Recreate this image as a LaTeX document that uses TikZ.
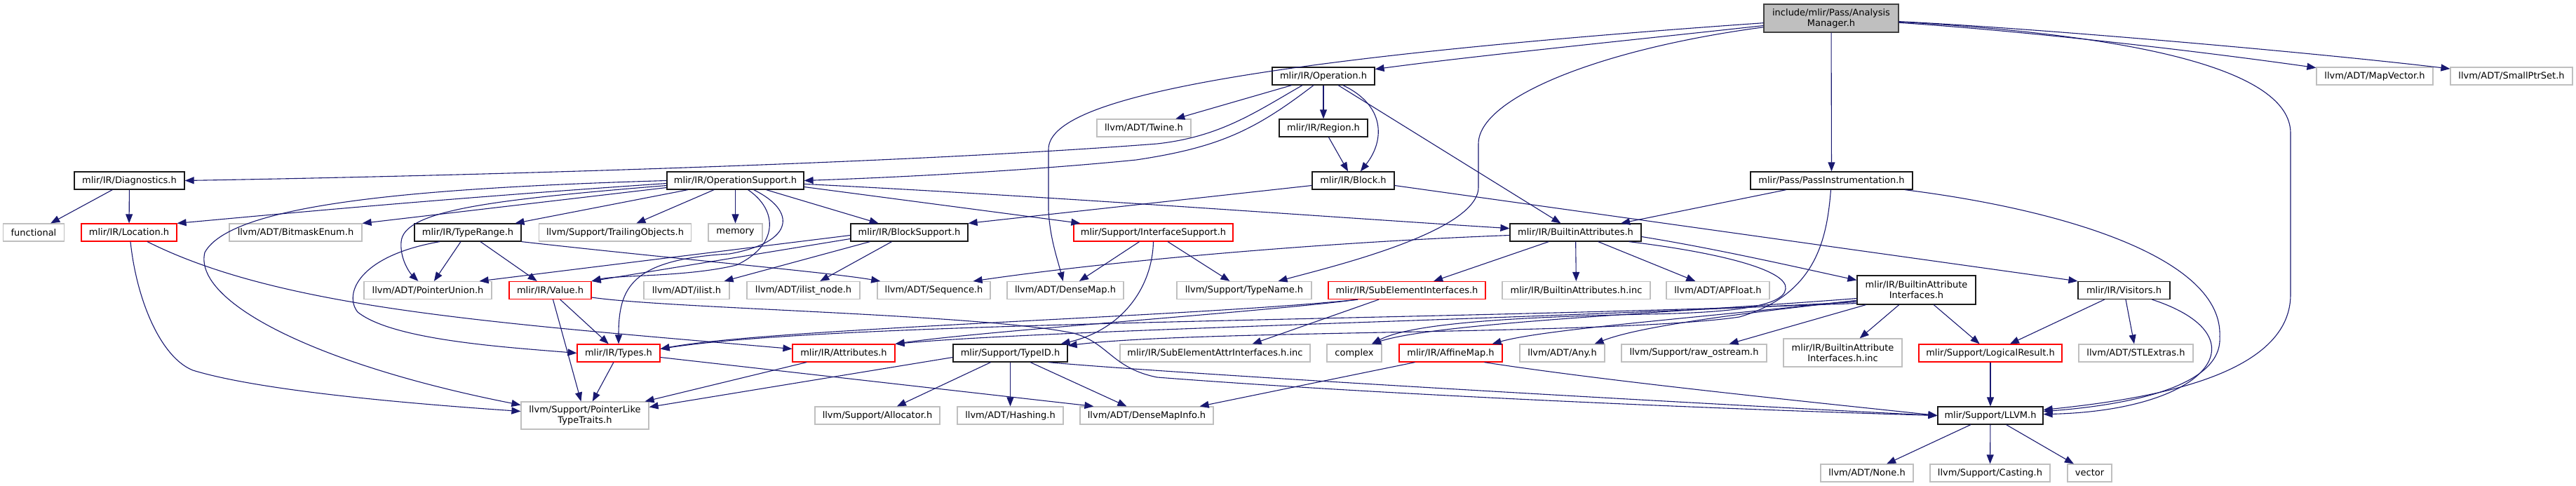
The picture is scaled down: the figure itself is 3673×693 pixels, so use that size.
\documentclass[tikz,border=0pt]{standalone}
\usepackage{fontspec}
\setmainfont{DejaVu Sans}
\usetikzlibrary{arrows.meta}
\definecolor{edgec}{HTML}{191970}
\definecolor{grayb}{HTML}{BFBFBF}
\definecolor{redb}{HTML}{FF0000}
\definecolor{darkb}{HTML}{404040}
\begin{document}
\begin{tikzpicture}[x=1pt,y=-1pt,
  base/.style={draw, inner sep=0pt, minimum height=25pt, font=\fontsize{13}{15}\selectfont, align=center, fill=white},
  dnode/.style={base, draw=black!90, line width=1.2pt},
  gnode/.style={base, draw=grayb, line width=1.2pt},
  rnode/.style={base, draw=redb, line width=1.2pt},
  tnode/.style={base, draw=darkb, fill=grayb, line width=1.2pt},
  edge/.style={draw=edgec, line width=1.1pt, -{Triangle[length=13pt,width=10pt]}}
]
\useasboundingbox (0,0) rectangle (3673,693);
% nodes
\node[tnode, minimum width=192pt, minimum height=40pt] (AM) at (2611,26) {include/mlir/Pass/Analysis\\Manager.h};
\node[dnode, minimum width=146pt] (Op) at (1887,108.5) {mlir/IR/Operation.h};
\node[gnode, minimum width=166pt] (MapV) at (3386,108.5) {llvm/ADT/MapVector.h};
\node[gnode, minimum width=174pt] (SPS) at (3581,108.5) {llvm/ADT/SmallPtrSet.h};
\node[gnode, minimum width=134pt] (Twine) at (1631,182.5) {llvm/ADT/Twine.h};
\node[dnode, minimum width=126pt] (Region) at (1887,182.5) {mlir/IR/Region.h};
\node[dnode, minimum width=157pt] (Diag) at (184.5,257.5) {mlir/IR/Diagnostics.h};
\node[dnode, minimum width=195pt] (OpS) at (1048.5,257.5) {mlir/IR/OperationSupport.h};
\node[dnode, minimum width=117pt] (Block) at (1929.5,257.5) {mlir/IR/Block.h};
\node[dnode, minimum width=231pt] (PI) at (2611.5,257.5) {mlir/Pass/PassInstrumentation.h};
\node[gnode, minimum width=87pt] (func) at (48,331.5) {functional};
\node[rnode, minimum width=136pt] (Loc) at (184,331.5) {mlir/IR/Location.h};
\node[gnode, minimum width=189pt] (BME) at (421.5,331.5) {llvm/ADT/BitmaskEnum.h};
\node[dnode, minimum width=152pt] (TR) at (667,331.5) {mlir/IR/TypeRange.h};
\node[gnode, minimum width=217pt] (TO) at (877,331.5) {llvm/Support/TrailingObjects.h};
\node[gnode, minimum width=77pt] (mem) at (1048.5,331.5) {memory};
\node[dnode, minimum width=167pt] (BS) at (1296.5,331.5) {mlir/IR/BlockSupport.h};
\node[rnode, minimum width=227pt] (IS) at (1644.5,331.5) {mlir/Support/InterfaceSupport.h};
\node[dnode, minimum width=187pt] (BA) at (2246.5,331.5) {mlir/IR/BuiltinAttributes.h};
\node[gnode, minimum width=182pt] (PU) at (610,414) {llvm/ADT/PointerUnion.h};
\node[rnode, minimum width=117pt] (Val) at (784.5,414) {mlir/IR/Value.h};
\node[gnode, minimum width=122pt] (ilist) at (979,414) {llvm/ADT/ilist.h};
\node[gnode, minimum width=161pt] (ilnode) at (1145.5,414) {llvm/ADT/ilist\_node.h};
\node[gnode, minimum width=161pt] (Seq) at (1331.5,414) {llvm/ADT/Sequence.h};
\node[gnode, minimum width=166pt] (DM) at (1519,414) {llvm/ADT/DenseMap.h};
\node[gnode, minimum width=192pt] (TN) at (1774,414) {llvm/Support/TypeName.h};
\node[rnode, minimum width=224pt] (SEI) at (2006,414) {mlir/IR/SubElementInterfaces.h};
\node[gnode, minimum width=211pt] (BAinc) at (2247.5,414) {mlir/IR/BuiltinAttributes.h.inc};
\node[gnode, minimum width=147pt] (APF) at (2449.5,414) {llvm/ADT/APFloat.h};
\node[dnode, minimum width=169pt, minimum height=41pt] (BAI) at (2732.5,413.5) {mlir/IR/BuiltinAttribute\\Interfaces.h};
\node[dnode, minimum width=131pt] (Vis) at (3028.5,414) {mlir/IR/Visitors.h};
\node[rnode, minimum width=118pt] (Types) at (882,503.5) {mlir/IR/Types.h};
\node[rnode, minimum width=146pt] (Attr) at (1203,503.5) {mlir/IR/Attributes.h};
\node[dnode, minimum width=163pt] (TID) at (1440.5,503.5) {mlir/Support/TypeID.h};
\node[gnode, minimum width=271pt] (SEAI) at (1732.5,503.5) {mlir/IR/SubElementAttrInterfaces.h.inc};
\node[gnode, minimum width=78pt] (cplx) at (1931,503.5) {complex};
\node[rnode, minimum width=147pt] (AffM) at (2068.5,503.5) {mlir/IR/AffineMap.h};
\node[gnode, minimum width=121pt] (Any) at (2227.5,503.5) {llvm/ADT/Any.h};
\node[gnode, minimum width=207pt] (raw) at (2415.5,503.5) {llvm/Support/raw\_ostream.h};
\node[gnode, minimum width=169pt, minimum height=40pt] (BAIinc) at (2627.5,503) {mlir/IR/BuiltinAttribute\\Interfaces.h.inc};
\node[rnode, minimum width=204pt] (LR) at (2838,503.5) {mlir/Support/LogicalResult.h};
\node[gnode, minimum width=163pt] (STL) at (3045.5,503.5) {llvm/ADT/STLExtras.h};
\node[gnode, minimum width=182pt, minimum height=39pt] (PLTT) at (834,592.5) {llvm/Support/PointerLike\\TypeTraits.h};
\node[gnode, minimum width=178pt] (Alloc) at (1251,592.5) {llvm/Support/Allocator.h};
\node[gnode, minimum width=151pt] (Hash) at (1440.5,592.5) {llvm/ADT/Hashing.h};
\node[gnode, minimum width=190pt] (DMI) at (1635,592.5) {llvm/ADT/DenseMapInfo.h};
\node[dnode, minimum width=150pt] (LLVM) at (2838,592.5) {mlir/Support/LLVM.h};
\node[gnode, minimum width=132pt] (None) at (2662,674.5) {llvm/ADT/None.h};
\node[gnode, minimum width=171pt] (Cast) at (2837.5,674.5) {llvm/Support/Casting.h};
\node[gnode, minimum width=63pt] (vec) at (2979.5,674.5) {vector};
% AnalysisManager.h
\draw[edge] (AM) .. controls (2300,60) and (2100,80) .. (Op);
\draw[edge] (AM) .. controls (1700,90) and (1495,150) .. (1495,213) -- (1495,300) .. controls (1497,340) and (1508,370) .. (DM);
\draw[edge] (AM) .. controls (2280,70) and (2108,140) .. (2108,205) -- (2108,267) .. controls (2108,330) and (1900,380) .. (TN);
\draw[edge] (AM) -- (PI);
\draw[edge] (AM) .. controls (2900,45) and (3150,75) .. (MapV);
\draw[edge] (AM) .. controls (2900,40) and (3300,75) .. (SPS);
\draw[edge] (AM) .. controls (3050,50) and (3266,100) .. (3266,190) -- (3266,420) .. controls (3266,540) and (3050,570) .. (LLVM);
% Operation.h
\draw[edge] (Op) -- (Region);
\draw[edge] (Op) .. controls (1975,150) and (1975,200) .. (Block);
\draw[edge] (Region) -- (Block);
\draw[edge] (Op) -- (BA);
\draw[edge] (Op) -- (Twine);
\draw[edge] ([xshift=-30pt]Op.south) .. controls (1790,160) and (1740,195) .. (1650,205) .. controls (1300,232) and (700,250) .. (Diag.east);
\draw[edge] ([xshift=-14pt]Op.south) .. controls (1790,185) and (1740,210) .. (1620,228) .. controls (1450,245) and (1250,254) .. (OpS.east);
% Block.h
\draw[edge] ([yshift=-7pt]Block.west) -- (BS.north east);
\draw[edge] ([yshift=-7pt]Block.east) -- (Vis.north west);
% Diagnostics.h
\draw[edge] (Diag) -- (func);
\draw[edge] (Diag) -- (Loc);
% OperationSupport.h
\draw[edge] (OpS) .. controls (1500,280) and (1900,310) .. (BA);
\draw[edge] ([yshift=-9pt]OpS.east) -- ([xshift=10pt]IS.north west);
\draw[edge] (OpS) -- (BS);
\draw[edge] (OpS) -- (mem);
\draw[edge] (OpS) -- (TO);
\draw[edge] (OpS) -- (TR);
\draw[edge] ([yshift=-10pt]OpS.west) -- (BME.north east);
\draw[edge] ([yshift=-4pt]OpS.west) .. controls (620,284) and (400,305) .. (Loc.north east);
\draw[edge] (OpS.west) .. controls (600,268) and (330,290) .. (292,360) .. controls (275,430) and (450,520) .. ([yshift=15pt]PLTT.west);
\draw[edge] ([yshift=-7pt]OpS.west) .. controls (700,285) and (575,300) .. (572,345) .. controls (570,370) and (585,390) .. (PU);
\draw[edge] ([xshift=18pt]OpS.south) .. controls (1110,300) and (1110,350) .. (1050,378) .. controls (980,395) and (880,392) .. (Val.north east);
\draw[edge] ([xshift=26pt]OpS.south) .. controls (1135,300) and (1135,345) .. (1040,362) .. controls (900,370) and (882,410) .. (Types);
% PassInstrumentation.h
\draw[edge] (PI) -- (BA);
\draw[edge] (PI) .. controls (2605,340) and (2590,420) .. (2480,452) .. controls (2300,478) and (1700,470) .. (TID);
\draw[edge] (PI) .. controls (2950,300) and (3170,370) .. (3165,480) .. controls (3170,560) and (3000,580) .. (LLVM);
% Visitors.h
\draw[edge] (Vis) .. controls (3230,480) and (3150,585) .. (LLVM);
\draw[edge] (Vis) -- (LR);
\draw[edge] (Vis) -- (STL);
% BlockSupport.h
\draw[edge] ([yshift=-4pt]BS.west) -- ([xshift=-18pt]PU.north east);
\draw[edge] ([yshift=-9pt]BS.west) -- (Val.north east);
\draw[edge] ([xshift=-56pt]BS.south) -- ([xshift=-8pt]ilist.north east);
\draw[edge] ([xshift=-25pt]BS.south) -- (ilnode);
% TypeRange.h
\draw[edge] ([xshift=-40pt]TR.south) .. controls (510,365) and (490,420) .. (510,445) .. controls (560,485) and (720,495) .. (Types.west);
\draw[edge] ([xshift=-10pt]TR.south) -- (PU);
\draw[edge] ([xshift=18pt]TR.south) -- (Val);
\draw[edge] (TR.south east) .. controls (950,368) and (1180,388) .. (Seq);
% Value.h
\draw[edge] (Val) -- (Types);
\draw[edge] ([xshift=4pt]Val.south) -- (PLTT);
\draw[edge] ([yshift=-10pt]Val.east) .. controls (950,440) and (1400,448) .. (1530,475) .. controls (1580,488) and (1585,525) .. (1650,538) .. controls (2000,565) and (2500,585) .. (LLVM.west);
% TypeID.h
\draw[edge] ([xshift=54pt]TID.south) .. controls (1700,535) and (2500,580) .. (LLVM.west);
\draw[edge] (TID) -- (DMI);
\draw[edge] (TID) -- (Hash);
\draw[edge] (TID) -- (Alloc);
\draw[edge] ([yshift=-6pt]TID.west) -- ([yshift=12pt]PLTT.east);
% Types.h, Attributes.h
\draw[edge] (Types) -- (PLTT);
\draw[edge] ([yshift=-6pt]Types.east) -- ([xshift=20pt]DMI.north west);
\draw[edge] ([xshift=-53pt]Attr.south) -- ([xshift=-6pt]PLTT.north east);
% Location.h
\draw[edge] (Loc) .. controls (400,440) and (700,460) .. ([yshift=6pt]Attr.west);
\draw[edge] ([xshift=2pt]Loc.south) .. controls (195,430) and (230,510) .. (275,528) .. controls (380,560) and (620,578) .. ([yshift=6pt]PLTT.west);
% InterfaceSupport.h
\draw[edge] (IS) -- (DM);
\draw[edge] (IS) -- (TN);
\draw[edge] (IS.south) .. controls (1643,410) and (1600,470) .. ([xshift=-10pt]TID.north east);
% BuiltinAttributes.h
\draw[edge] ([yshift=-4pt]BA.west) .. controls (1900,345) and (1600,370) .. ([xshift=-25pt]Seq.north east);
\draw[edge] (BA) -- (SEI);
\draw[edge] (BA) -- (BAinc);
\draw[edge] (BA) -- (APF);
\draw[edge] ([yshift=-6pt]BA.east) .. controls (2450,355) and (2580,385) .. ([yshift=14pt]BAI.west);
\draw[edge] ([xshift=76pt]BA.south) .. controls (2450,360) and (2550,385) .. (2546,412) .. controls (2543,440) and (2450,446) .. (2350,448) .. controls (2150,452) and (2010,462) .. ([xshift=25pt]cplx.north);
% SubElementInterfaces.h
\draw[edge] ([xshift=-70pt]SEI.south) .. controls (1800,445) and (1400,472) .. (Attr.north east);
\draw[edge] ([xshift=-70pt]SEI.south) .. controls (1700,452) and (1100,468) .. ([yshift=6pt]Types.east);
\draw[edge] ([xshift=-40pt]SEI.south) -- ([xshift=-83pt]SEAI.north east);
% BuiltinAttributeInterfaces.h
\draw[edge] ([yshift=-12pt]BAI.west) .. controls (2400,445) and (2050,460) .. ([xshift=25pt]cplx.north);
\draw[edge] ([yshift=-15pt]BAI.west) .. controls (2400,455) and (2200,470) .. ([xshift=-15pt]AffM.north east);
\draw[edge] ([yshift=-15pt]BAI.west) .. controls (2450,450) and (2330,468) .. ([xshift=-15pt]Any.north east);
\draw[edge] ([yshift=-17pt]BAI.west) .. controls (2200,455) and (1500,470) .. (Attr.north east);
\draw[edge] ([yshift=-19pt]BAI.west) .. controls (2000,458) and (1200,458) .. ([yshift=6pt]Types.east);
\draw[edge] ([xshift=-72pt]BAI.south) -- ([xshift=50pt]raw.north);
\draw[edge] (BAI) -- (BAIinc);
\draw[edge] (BAI) -- (LR);
% AffineMap.h
\draw[edge] ([xshift=48pt]AffM.south) .. controls (2300,545) and (2600,575) .. (LLVM.west);
\draw[edge] ([xshift=-51pt]AffM.south) -- ([xshift=-20pt]DMI.north east);
% LogicalResult.h, LLVM.h
\draw[edge] (LR) -- (LLVM);
\draw[edge] (LLVM) -- (None);
\draw[edge] (LLVM) -- (Cast);
\draw[edge] (LLVM) -- (vec);
\end{tikzpicture}
\end{document}
